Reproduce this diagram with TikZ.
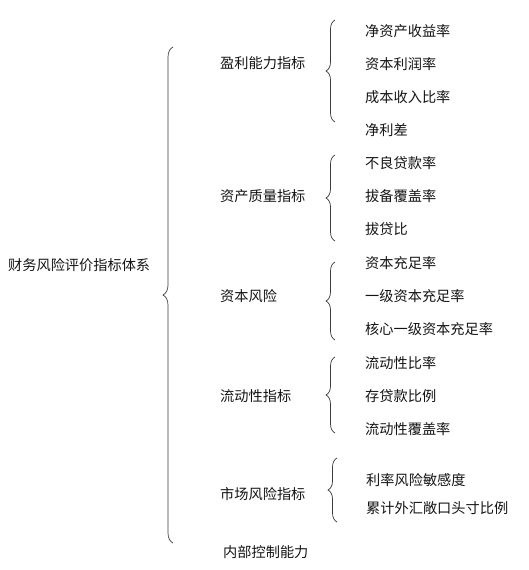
\documentclass[tikz,border=0pt]{standalone}
\usepackage{fontspec}
\setmainfont{Noto Sans CJK SC}
\usetikzlibrary{decorations.pathreplacing, positioning}
\definecolor{cText}{RGB}{20,20,20}
\definecolor{cBrace}{RGB}{60,60,60}
\tikzset{
	txt/.style     ={anchor=west, inner sep=0pt, text=cText, font=\fontsize{14.2}{15}\selectfont},
	rootnode/.style={txt},
	catnode/.style ={txt},
	leafnode/.style={txt},
	bigbrace/.style={decorate, decoration={brace, amplitude=10pt}, draw=cBrace, line width=0.7pt},
	subbrace/.style={decorate, decoration={brace, amplitude=9pt}, draw=cBrace, line width=0.7pt},
}

\begin{document}
\begin{tikzpicture}[x=1pt, y=-1pt]
	\useasboundingbox (0,0) rectangle (528,570);
	% root and categories
	\node[rootnode] (root) at (8,265) {财务风险评价指标体系};
	\node[catnode] (c1) at (220,63)  {盈利能力指标};
	\node[catnode] (c2) at (220,196) {资产质量指标};
	\node[catnode] (c3) at (220,296) {资本风险};
	\node[catnode] (c4) at (220,396) {流动性指标};
	\node[catnode] (c5) at (220,494) {市场风险指标};
	\node[catnode] (c6) at (223,552) {内部控制能力};
	% leaves
	\node[leafnode] (l11) at (365,31)  {净资产收益率};
	\node[leafnode] (l12) at (365,64)  {资本利润率};
	\node[leafnode] (l13) at (365,97)  {成本收入比率};
	\node[leafnode] (l14) at (365,130) {净利差};
	\node[leafnode] (l21) at (365,163) {不良贷款率};
	\node[leafnode] (l22) at (365,196) {拔备覆盖率};
	\node[leafnode] (l23) at (365,229) {拔贷比};
	\node[leafnode] (l31) at (365,263) {资本充足率};
	\node[leafnode] (l32) at (365,296) {一级资本充足率};
	\node[leafnode] (l33) at (365,329) {核心一级资本充足率};
	\node[leafnode] (l41) at (365,363) {流动性比率};
	\node[leafnode] (l42) at (365,396) {存贷款比例};
	\node[leafnode] (l43) at (365,429) {流动性覆盖率};
	\node[leafnode] (l51) at (366,480) {利率风险敏感度};
	\node[leafnode] (l52) at (366,508) {累计外汇敞口头寸比例};
	% brace ends
	\coordinate (bt0) at (173,47);  \coordinate (bb0) at (173,543);
	\coordinate (bt1) at (335,20);  \coordinate (bb1) at (335,122);
	\coordinate (bt2) at (335,155); \coordinate (bb2) at (335,241);
	\coordinate (bt3) at (335,262); \coordinate (bb3) at (335,340);
	\coordinate (bt4) at (335,357); \coordinate (bb4) at (335,433);
	\coordinate (bt5) at (337,458); \coordinate (bb5) at (337,522);
	\draw[bigbrace] (bb0) -- (bt0);
	\foreach \i in {1,...,5}
		\draw[subbrace] (bb\i) -- (bt\i);
\end{tikzpicture}
\end{document}
